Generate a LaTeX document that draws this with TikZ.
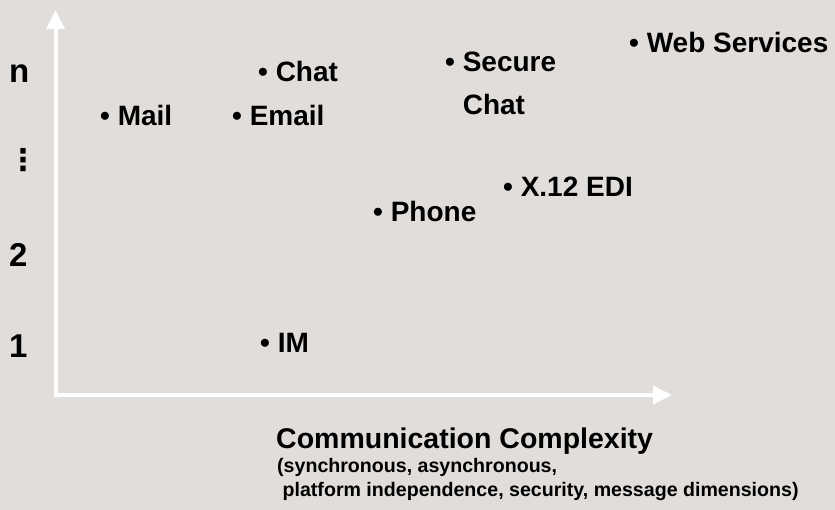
\documentclass[tikz,border=0pt]{standalone}
\usepackage{fontspec}
\setmainfont{Liberation Sans}
\newfontfamily\dotsfont{DejaVu Sans}
\usetikzlibrary{arrows.meta}

\definecolor{paper}{RGB}{224,221,218}

\tikzset{
  axis/.style={draw=white, line width=4pt, line join=miter,
    {Triangle[length=19pt,width=18pt]}-{Triangle[length=19pt,width=18pt]}},
  item/.style={anchor=base west, inner sep=0pt, font=\fontsize{28}{43}\selectfont\bfseries},
  level/.style={anchor=base west, inner sep=0pt, font=\fontsize{33}{33}\selectfont\bfseries},
  heading/.style={anchor=base west, inner sep=0pt, font=\fontsize{28.5}{34}\selectfont\bfseries},
  note/.style={anchor=base west, inner sep=0pt, font=\fontsize{19.6}{24}\selectfont\bfseries},
}

\begin{document}
\begin{tikzpicture}[x=1pt, y=-1pt]
  \fill[paper] (0,0) rectangle (835,510);
  \useasboundingbox (0,0) rectangle (835,510);

  % axes
  \coordinate (ytip) at (55.5,10);
  \coordinate (origin) at (55.5,395);
  \coordinate (xtip) at (672,395);
  \draw[axis] (ytip) -- (origin) -- (xtip);

  % levels on the vertical axis
  \node[level] (lvn) at (9,83) {n};
  \node[level, font=\dotsfont\fontsize{30}{30}\selectfont\bfseries] (lvdots) at (8,171) {⋮};
  \node[level] (lv2) at (9,267) {2};
  \node[level] (lv1) at (9,358) {1};

  % communication forms
  \node[item] (mail)   at (100,126) {• Mail};
  \node[item] (email)  at (232,126) {• Email};
  \node[item] (chat)   at (258,82)  {• Chat};
  % two-line entry: the base anchor sits on the last line
  \node[item, align=left] (secure) at (445,115) {• Secure\\\phantom{• }Chat};
  \node[item] (web)    at (629,53)  {• Web Services};
  \node[item] (edi)    at (503,197) {• X.12 EDI};
  \node[item] (phone)  at (373,222) {• Phone};
  \node[item] (im)     at (260,353) {• IM};

  % horizontal axis caption
  \node[heading] (title) at (276,448) {Communication Complexity};
  \node[note] (sub1) at (277,472) {(synchronous, asynchronous,};
  \node[note] (sub2) at (277,496) {\ platform independence, security, message dimensions)};
\end{tikzpicture}
\end{document}
